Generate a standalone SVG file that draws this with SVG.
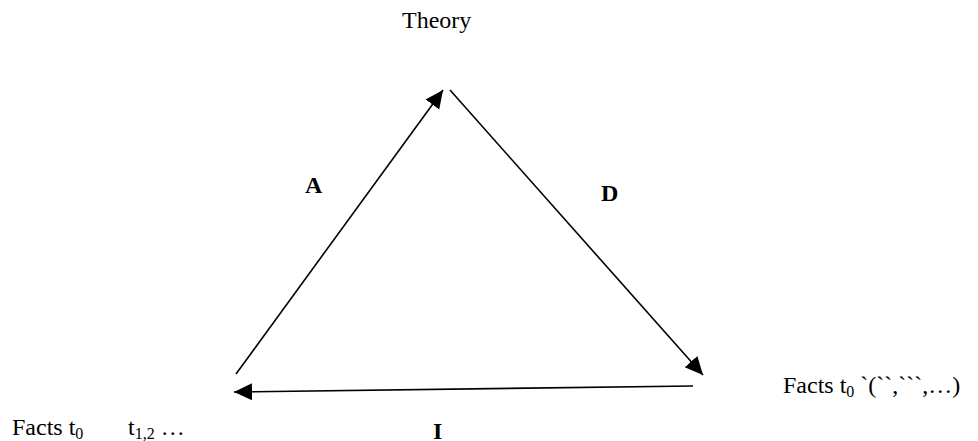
<svg xmlns="http://www.w3.org/2000/svg" width="978" height="441" viewBox="0 0 978 441">
<style>
.t{font-family:"Liberation Serif","Times New Roman",serif;font-size:24px;fill:#000}
.b{font-weight:bold}
.sub{font-size:16px}
.ln{stroke:#000;stroke-width:1.6;fill:none}
</style>
<defs>
<marker id="ah" markerUnits="userSpaceOnUse" markerWidth="18" markerHeight="18" viewBox="0 0 16 16" refX="16" refY="8" orient="auto">
<path d="M0,0.5 L16,8 L0,15.5 Z" fill="#000"/>
</marker>
</defs>
<rect width="978" height="441" fill="#fff"/>
<g id="connectors">
<line id="edge-A" class="ln" x1="236" y1="374" x2="443" y2="90" marker-end="url(#ah)"/>
<line id="edge-D" class="ln" x1="450" y1="90" x2="703" y2="375" marker-end="url(#ah)"/>
<line id="edge-I" class="ln" x1="693" y1="386" x2="234" y2="392" marker-end="url(#ah)"/>
</g>
<g id="labels">
<text class="t b" x="305" y="193">A</text>
<text class="t b" x="601" y="201">D</text>
<text class="t b" x="433" y="439">I</text>
</g>
<g id="theory">
<text class="t" x="402" y="28">Theory</text>
</g>
<g id="facts-left">
<text class="t" x="12" y="435">Facts t<tspan class="sub" dy="4">0</tspan><tspan dy="-4" x="128">t</tspan><tspan class="sub" dy="4">1,2</tspan><tspan dy="-4"> …</tspan></text>
</g>
<g id="facts-right">
<text class="t" x="783" y="393">Facts t<tspan class="sub" dy="4">0</tspan><tspan dy="-4"> `(``,```,…)</tspan></text>
</g>
</svg>
